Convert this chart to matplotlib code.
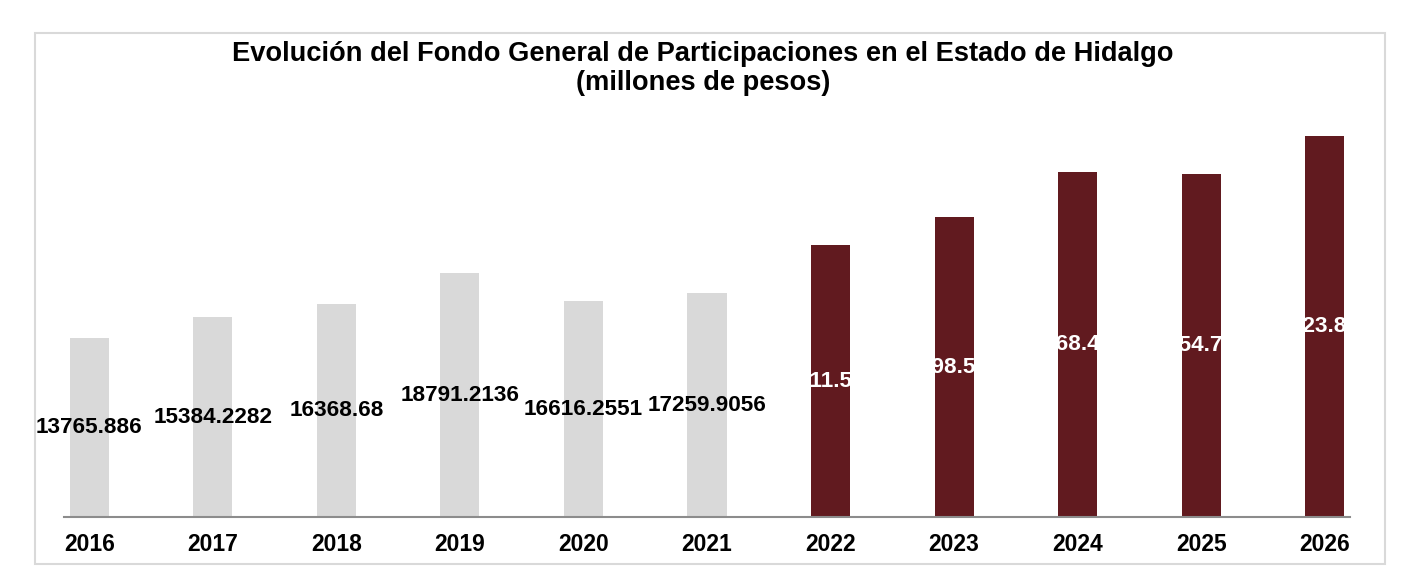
import matplotlib.pyplot as plt
from matplotlib.patches import Rectangle

years = ['2016', '2017', '2018', '2019', '2020', '2021',
         '2022', '2023', '2024', '2025', '2026']
values = [13765.886, 15384.2282, 16368.68, 18791.2136, 16616.2551, 17259.9056,
          20911.5142, 23098.5173, 26568.4216, 26354.7309, 29323.8184]
labels = ['13765.886', '15384.2282', '16368.68', '18791.2136', '16616.2551', '17259.9056',
          '20911.5142', '23098.5173', '26568.4216', '26354.7309', '29323.8184']

light = '#d9d9d9'
dark = '#611a1f'
colors = [light] * 6 + [dark] * 5
text_colors = ['black'] * 6 + ['white'] * 5

plt.rcParams['font.family'] = ['Liberation Sans', 'DejaVu Sans']

fig = plt.figure(figsize=(14.06, 5.74), dpi=100)
ax = fig.add_axes([0.0455, 0.0988, 0.9147, 0.680])

x = range(len(years))
ax.bar(x, values, width=0.316, color=colors, zorder=2)

for i, v in enumerate(values):
    ax.text(i, v / 2, labels[i], ha='center', va='center', fontsize=16.2,
            fontweight='bold', color=text_colors[i], zorder=3)

ax.set_xlim(-0.206, len(years) - 1 + 0.206)
ax.set_ylim(0, 30000)
ax.set_xticks(list(x))
ax.set_xticklabels(years, fontsize=16.5, fontweight='bold')
ax.tick_params(axis='x', length=0, pad=11)
ax.set_yticks([])

for s in ['top', 'right', 'left']:
    ax.spines[s].set_visible(False)
ax.spines['bottom'].set_color('#8c8c8c')
ax.spines['bottom'].set_linewidth(1.5)

fig.text(0.5, 0.8937, 'Evolución del Fondo General de Participaciones en el Estado de Hidalgo',
         ha='center', va='baseline', fontsize=19.6, fontweight='bold')
fig.text(0.5, 0.8432, '(millones de pesos)',
         ha='center', va='baseline', fontsize=19.6, fontweight='bold')

# outer border
fig.patches.append(Rectangle((35 / 1406, 1 - 564 / 574), (1385 - 35) / 1406, (564 - 33) / 574,
                             transform=fig.transFigure, fill=False,
                             edgecolor='#d9d9d9', linewidth=1.5))

plt.savefig('out.png')
